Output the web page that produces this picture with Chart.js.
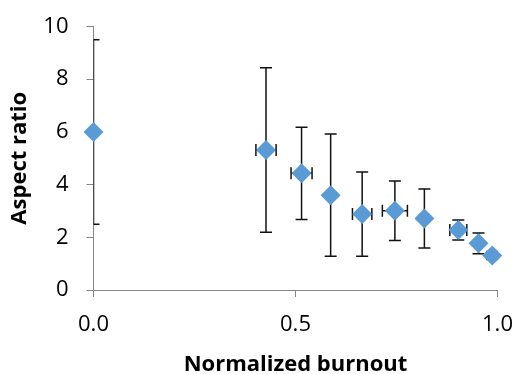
<!DOCTYPE html>
<html>
<head>
<meta charset="utf-8">
<script src="https://cdn.jsdelivr.net/npm/chart.js@4.4.0/dist/chart.umd.min.js"></script>
<style>
	html, body { margin: 0; padding: 0; background: #fff; }
	#wrap { width: 518px; height: 374px; }
</style>
</head>
<body>
<div id="wrap"><canvas id="myChart" width="518" height="374"></canvas></div>
<script>
// 읽어낸 값
var burnout = [0, 0.427, 0.515, 0.587, 0.665, 0.746, 0.819, 0.903, 0.953, 0.987];
var aspect = [6.0, 5.31, 4.43, 3.6, 2.88, 3.01, 2.71, 2.28, 1.77, 1.31];
var aspectErr = [3.5, 3.12, 1.75, 2.32, 1.6, 1.13, 1.12, 0.38, 0.39, 0.15];
var burnoutErr = [0, 0.025, 0.026, 0, 0.024, 0.031, 0, 0.021, 0, 0];
var xTicks = [0, 0.5, 1.0];
var yTicks = [0, 2, 4, 6, 8, 10];

var fontName = "'Open Sans', 'Liberation Sans', sans-serif";

var points = [];
for (var i = 0; i < burnout.length; i++) {
	points.push({ x: burnout[i], y: aspect[i] });
}

// 에러바 그리기 (마커보다 먼저)
var errorBars = {
	id: 'errorBars',
	beforeDatasetsDraw: function(chart) {
		var ctx = chart.ctx;
		var xs = chart.scales.x;
		var ys = chart.scales.y;
		var area = chart.chartArea;
		var cap = 6;
		ctx.save();
		ctx.beginPath();
		ctx.rect(area.left, area.top, area.right - area.left, area.bottom - area.top);
		ctx.clip();
		ctx.strokeStyle = '#111';
		ctx.lineWidth = 1.5;
		for (var i = 0; i < burnout.length; i++) {
			var px = xs.getPixelForValue(burnout[i]);
			var py = ys.getPixelForValue(aspect[i]);
			if (aspectErr[i] > 0) {
				var top = ys.getPixelForValue(aspect[i] + aspectErr[i]);
				var bot = ys.getPixelForValue(aspect[i] - aspectErr[i]);
				ctx.beginPath();
				ctx.moveTo(px, top); ctx.lineTo(px, bot);
				ctx.moveTo(px - cap, top); ctx.lineTo(px + cap, top);
				ctx.moveTo(px - cap, bot); ctx.lineTo(px + cap, bot);
				ctx.stroke();
			}
			if (burnoutErr[i] > 0) {
				var l = xs.getPixelForValue(burnout[i] - burnoutErr[i]);
				var r = xs.getPixelForValue(burnout[i] + burnoutErr[i]);
				ctx.beginPath();
				ctx.moveTo(l, py); ctx.lineTo(r, py);
				ctx.moveTo(l, py - cap); ctx.lineTo(l, py + cap);
				ctx.moveTo(r, py - cap); ctx.lineTo(r, py + cap);
				ctx.stroke();
			}
		}
		ctx.restore();
	}
};

var ctx = document.getElementById('myChart').getContext('2d');
var myChart = new Chart(ctx, {
	type: 'scatter',
	data: {
		datasets: [{
			label: 'Aspect ratio',
			data: points,
			pointStyle: 'rectRot',
			pointRadius: 10,
			pointHoverRadius: 10,
			backgroundColor: '#5B9BD5',
			borderColor: '#5B9BD5',
			borderWidth: 0
		}]
	},
	plugins: [errorBars],
	options: {
		responsive: false,
		animation: false,
		clip: false,
		layout: { padding: { top: 26.5, right: 20.5, left: 0, bottom: 0 } },
		plugins: {
			legend: { display: false },
			tooltip: { enabled: false }
		},
		scales: {
			x: {
				type: 'linear',
				min: 0,
				max: 1,
				afterBuildTicks: function(axis) {
					axis.ticks = xTicks.map(function(v) { return { value: v }; });
				},
				afterFit: function(axis) {
					axis.height = 84;
					axis.paddingLeft = 0;
					axis.paddingRight = 0;
				},
				border: { color: '#868686', width: 1 },
				grid: { drawOnChartArea: false, tickLength: 7, color: '#868686' },
				ticks: {
					color: '#000',
					padding: 15,
					font: { family: fontName, size: 22 },
					callback: function(v) { return Number(v).toFixed(1); }
				},
				title: {
					display: true,
					text: 'Normalized burnout',
					color: '#000',
					padding: { top: 0, bottom: -4 },
					font: { family: fontName, size: 22, weight: 'bold' }
				}
			},
			y: {
				type: 'linear',
				min: 0,
				max: 10,
				afterBuildTicks: function(axis) {
					axis.ticks = yTicks.map(function(v) { return { value: v }; });
				},
				afterFit: function(axis) {
					axis.width = 93.5;
					axis.paddingTop = 0;
					axis.paddingBottom = 0;
				},
				border: { color: '#868686', width: 1 },
				grid: { drawOnChartArea: false, tickLength: 7, color: '#868686' },
				ticks: {
					color: '#000',
					padding: 18,
					font: { family: fontName, size: 22 }
				},
				title: {
					display: true,
					text: 'Aspect ratio',
					color: '#000',
					padding: { top: 7, bottom: 0 },
					font: { family: fontName, size: 22, weight: 'bold' }
				}
			}
		}
	}
});
</script>
</body>
</html>
